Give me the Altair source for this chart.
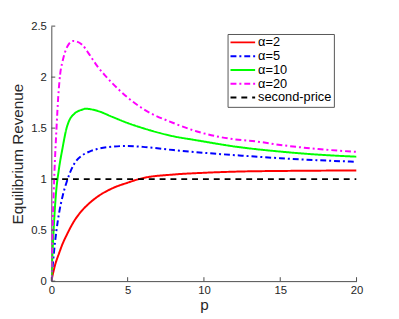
import altair as alt
import pandas as pd

# ---- data ----
series_names = ["α=2", "α=5", "α=10", "α=20", "second-price"]

p_a2 = [0, 0.25, 0.5, 0.75, 1, 1.5, 2, 2.5, 3, 4, 5, 5.5, 6, 8, 10, 12.5, 15, 17.5, 20]
rev_a2 = [0, 0.16, 0.27, 0.37, 0.45, 0.59, 0.69, 0.765, 0.825, 0.91, 0.965, 0.99, 1.01,
          1.045, 1.062, 1.075, 1.08, 1.083, 1.085]

p_a5 = [0, 0.25, 0.34, 0.5, 0.75, 1, 1.5, 2, 2.5, 3, 4, 4.9, 6, 8, 10, 12.5, 15, 17.5, 20]
rev_a5 = [0, 0.39, 0.5, 0.66, 0.84, 0.97, 1.15, 1.23, 1.27, 1.295, 1.318, 1.325, 1.316,
          1.285, 1.258, 1.23, 1.205, 1.185, 1.17]

p_a10 = [0, 0.15, 0.3, 0.5, 0.73, 1, 1.16, 1.5, 2, 2.24, 3, 4, 5, 6, 8, 9.55, 12, 15, 17.5, 20]
rev_a10 = [0, 0.5, 0.85, 1.1, 1.3, 1.5, 1.57, 1.64, 1.68, 1.69, 1.67, 1.61, 1.55, 1.5,
           1.42, 1.38, 1.32, 1.27, 1.24, 1.22]

p_a20 = [0, 0.1, 0.2, 0.34, 0.45, 0.58, 0.73, 1.05, 1.44, 2, 2.5, 3, 3.5, 4, 5, 6, 8,
         9.55, 12, 13.4, 15, 17.5, 20]
rev_a20 = [0, 0.6, 1.05, 1.5, 1.8, 2.03, 2.15, 2.3, 2.355, 2.32, 2.22, 2.11, 2.02, 1.94,
           1.8, 1.69, 1.55, 1.467, 1.39, 1.37, 1.335, 1.295, 1.267]

p_sp = [0, 20]
rev_sp = [1, 1]

x_ticks = [0, 5, 10, 15, 20]
y_ticks = [0, 0.5, 1, 1.5, 2, 2.5]

colors = ["#ff0000", "#0000ff", "#00ff00", "#ff00ff", "#000000"]
dashes = [[1, 0], [6, 3, 2, 3], [1, 0], [6, 3, 2, 3], [6, 5]]

rows = []
for name, ps, rs in zip(series_names,
                        [p_a2, p_a5, p_a10, p_a20, p_sp],
                        [rev_a2, rev_a5, rev_a10, rev_a20, rev_sp]):
    for p, r in zip(ps, rs):
        rows.append({"p": p, "rev": r, "series": name})
df = pd.DataFrame(rows)

W, H = 310, 259
FONT = "Liberation Sans"
TXT = "#262626"

legend = alt.Legend(
    title=None, orient="none", legendX=179, legendY=8,
    symbolType="stroke", symbolSize=625, symbolStrokeWidth=2,
    clipHeight=13, rowPadding=0, labelOffset=2, padding=2,
    labelFontSize=13, labelFont=FONT, labelColor="#000000",
    strokeColor="#555555", fillColor="white",
)

x_enc = alt.X("p:Q", scale=alt.Scale(domain=[0, 20], nice=False),
              axis=alt.Axis(values=x_ticks, title="p", ticks=False, grid=False,
                            labelPadding=4, titlePadding=1, labelFlush=False))
y_enc = alt.Y("rev:Q", scale=alt.Scale(domain=[0, 2.5], nice=False),
              axis=alt.Axis(values=y_ticks, format="~g", title="Equilibrium Revenue",
                            ticks=False, grid=False, labelPadding=5, titlePadding=5,
                            labelFlush=False))

lines = alt.Chart(df).mark_line(interpolate="monotone", strokeWidth=2, clip=True).encode(
    x=x_enc,
    y=y_enc,
    color=alt.Color("series:N", scale=alt.Scale(domain=series_names, range=colors),
                    sort=series_names, legend=legend),
    strokeDash=alt.StrokeDash("series:N", scale=alt.Scale(domain=series_names, range=dashes),
                              sort=series_names, legend=legend),
    detail="series:N",
    order="p:Q",
)

# inward tick marks drawn through the shared scales
xt = alt.Chart(pd.DataFrame({"p": x_ticks})).mark_rule(color="#4d4d4d", strokeWidth=1).encode(
    x=x_enc, y=alt.value(H), y2=alt.value(H - 4))
yt = alt.Chart(pd.DataFrame({"rev": y_ticks})).mark_rule(color="#4d4d4d", strokeWidth=1).encode(
    y=y_enc, x=alt.value(0), x2=alt.value(4))

chart = alt.layer(lines, xt, yt).properties(
    width=W, height=H,
    autosize=alt.AutoSizeParams(type="none"),
    padding={"left": 44, "top": 16, "right": 35, "bottom": 32},
).configure_view(stroke=None).configure_axis(
    labelFont=FONT, titleFont=FONT, labelFontSize=11.5, titleFontSize=15.5,
    labelColor=TXT, titleColor=TXT, titleFontWeight="normal",
    domainColor="#4d4d4d", domainWidth=1,
)

chart.save("out.html", embed_options={"renderer": "svg", "actions": False})
